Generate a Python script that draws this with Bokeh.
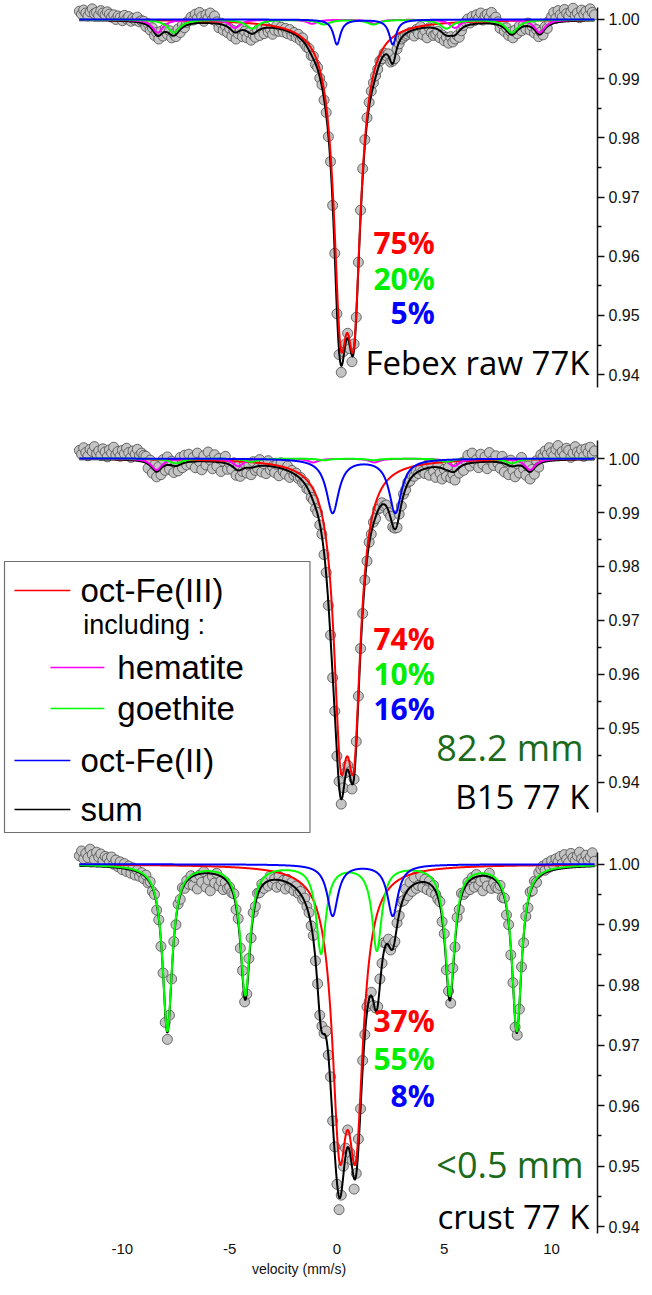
import numpy as np
from bokeh.plotting import figure
from bokeh.layouts import column
from bokeh.models import Range1d, LinearAxis, FixedTicker, PrintfTickFormatter, Label
from bokeh.embed import file_html
from bokeh.resources import INLINE

# ---------------- data ----------------
# measured spectra: absorption read off the picture, in units of 1e-4
# (relative transmission = 1 - value / 10000), channels -12.0 ... 12.0 mm/s, step 0.1
febex_abs = [
    -14, -9, -16, -11, -6, -13, -18, -10, -12, -7, -15, -11, -8, -13, -9,
    -4, -8, 0, -6, -3, 2, -7, -1, -5, 3, -2, 1, -4, 4, 2,
    3, 12, 7, 18, 14, 27, 22, 33, 20, 28, 15, 25, 19, 31, 24, 29, 16, 22, 9, 14, 5,
    2, -4, 1, -9, -2, -12, -5, 3, -8, -3, -11, 0, -6, 4,
    14, 6, 18, 11, 22, 15, 28, 19, 33, 24, 17, 29, 20, 31, 22, 35, 26, 30, 18, 27, 16, 24, 13, 21, 17, 25,
    18, 10, 20, 13, 21, 15, 24, 17, 27, 22, 30, 25, 35, 31, 42,
    47, 49, 61, 62, 76, 81, 99, 110, 136, 157, 198, 240, 314, 395, 497, 566, 596, 561, 548, 530,
    556, 578, 548, 503, 410, 322, 252, 203, 166, 140, 121, 107, 95, 84, 70, 66, 57, 61, 58, 72,
    70, 66, 50, 41, 33, 30, 27, 25, 22, 24,
    28, 17, 24, 12, 26, 19, 31, 14, 22, 27,
    25, 20, 31, 26, 36, 30, 40, 29, 38, 33, 27, 30, 19,
    10, 4, -1, 6, -5, 2, -8, -2, -11, 1, -6, -9, -3, -12, 0, -4,
    4, 15, 8, 20, 14, 27, 21, 31, 18, 24, 11, 19, 8, 16, 6, 18, 12, 23, 17, 29, 21, 26, 12, 15,
    2, -5, -12, -2, -15, -8, -4, -17, -10, -6, -13, -19, -7, -11, -3, -16, -9, -14, -6, -18, -12, -8,
]
b15_abs = [
    -15, -8, -20, -11, -5, -17, -13, -22, -9, -14, -6, -18, -12, -3, -16, -10, -21, -7, -13, -4,
    -15, -9, -19, -11, -2, -14, -8, -17, -5, -10, -6,
    -4, 18, 3, 27, 12, 34, 15, 30, 2, 22, -3, 20, 5, 26, 9, 23, -2, 17, -6, 12,
    -8, 10, -2, 17, -10, 6, 21, -5, 12, -12, 3, 19, -7, 14, 0, 24, 5, -4, 20, 9,
    20, 8, 31, 14, 33, 24, 9, 27, 12, 30, 6, 22, 18, 2, 25, 10, 28, 4, 21, 15, 26, 11, 32, 8, 24, 29, 14, 35, 22,
    31, 27, 37, 35, 45, 44, 56, 58, 72, 77, 93, 100, 123, 140, 178, 211, 272, 327, 406, 468,
    551, 598, 640, 610, 582, 568, 580, 612, 594, 524, 440, 352, 287, 225, 190, 155, 140, 118, 111, 94,
    92, 82, 88, 86, 100, 107, 127, 129, 128, 103, 88, 66, 58, 44, 42, 31, 33, 24, 28, 19, 24,
    28, 12, 31, 9, 24, 35, 14, 27, 38, 20, 33, 16, 36, 29, 40, 18, 27, 8, 22, 4,
    -6, 14, -10, 8, 2, 17, -8, 11, -3, 19, -11, 5, 13, -5, 9,
    18, -4, 25, 6, 30, 3, 22, 34, 10, 27, -2, 19, 31, 14, 38, 20, 29, 4, 16, -7,
    -3, -14, -8, -20, -11, -5, -17, -24, -9, -13, -6, -19, -15, -2, -10, -22, -12, -7, -16, -4,
    -18, -11, -21, -8, -14,
]
crust_abs = [
    -14, -22, -9, -18, -11, -25, -16, -8, -20, -12, -17, -6, -13,
    -10, -3, -12, 0, -7, 4, -4, 9, -1, 12, 3, 15, 6, 18, 10, 20, 14,
    24, 18, 31, 29, 45, 50, 76, 92, 136, 180, 262, 290, 250, 190, 128, 100, 66, 58, 39, 40, 27, 33, 19,
    35, 22, 41, 18, 30, 12, 38, 26, 44, 20, 31, 15, 36, 28, 42, 30, 40,
    38, 47, 49, 75, 90, 139, 176, 228, 215, 156, 122, 80, 70, 48, 47, 33,
    40, 28, 36, 19, 33, 24, 38, 20, 35, 27, 41, 25, 38, 30, 44, 36, 48, 45, 58, 56,
    70, 80, 102, 118, 160, 198, 250, 268, 280, 276, 316, 352, 425, 468, 530, 572, 548, 500, 470, 440,
    478, 490, 538, 512, 455, 405, 325, 282, 236, 228, 212, 234, 238, 236, 190, 164, 130, 131, 124, 142,
    133, 128, 97, 85, 62,
    60, 41, 52, 30, 45, 22, 40, 35, 19, 38, 25, 42, 28, 46, 35, 50,
    58, 62, 95, 115, 175, 210, 230, 172, 137, 88, 75, 48, 50,
    46, 30, 42, 22, 38, 17, 35, 28, 44, 24, 36, 15, 40, 31, 38,
    40, 35, 55, 56, 84, 100, 150, 196, 270, 283, 240, 170, 130, 86, 72, 46, 44, 28, 30,
    14, 8, 3, 10, -2, 5, -6, 2, -9, -4, -13, -1, -16, -8, -3, -18, -11, -6, -14, -20, -9, -4, -15, -7, -12, -19, -5,
]
for _a in (febex_abs, b15_abs, crust_abs):
    assert len(_a) == 241, len(_a)

# fitted sub-spectra: line positions (mm/s), line depths, half width at half maximum (mm/s)
febex_fe3 = ([0.17, 0.79], [0.0432, 0.0432], 0.39)
febex_fe2 = ([0.0, 2.6], [0.0042, 0.0042], 0.20)
febex_goe = ([-7.6, -3.95, -0.6, 1.7, 5.1, 8.15], [0.0022, 0.0015, 0.0008, 0.0008, 0.0015, 0.0022], 0.35)
febex_hem = ([-8.35, -4.75, -1.15, 1.75, 5.5, 9.45], [0.0022, 0.0014, 0.0007, 0.0007, 0.0014, 0.0022], 0.30)

b15_fe3 = ([0.17, 0.79], [0.045, 0.045], 0.39)
b15_fe2 = ([-0.2, 2.72], [0.010, 0.010], 0.35)
b15_goe = ([-7.5, -4.0, -0.6, 1.7, 5.1, 8.15], [0.0009, 0.0006, 0.0003, 0.0003, 0.0006, 0.0009], 0.35)
b15_hem = ([-8.4, -4.6, -1.1, 1.75, 5.45, 9.0], [0.0021, 0.0014, 0.0007, 0.0007, 0.0014, 0.0021], 0.30)

crust_fe3 = ([0.12, 0.88], [0.0400, 0.0400], 0.42)
crust_fe2 = ([-0.2, 2.6], [0.0085, 0.0085], 0.30)
crust_goe = ([-7.9, -4.27, -0.74, 1.86, 5.26, 8.38], [0.0275, 0.0215, 0.0145, 0.0140, 0.0215, 0.0275], 0.27)
crust_hem = ([], [], 0.30)

febex_pct = ["75%", "20%", "5%"]
b15_pct = ["74%", "10%", "16%"]
crust_pct = ["37%", "55%", "8%"]
sample_names = ["Febex raw 77K", "B15 77 K", "crust 77 K"]
distances = ["82.2 mm", "<0.5 mm"]
legend_labels = ["oct-Fe(III)", "including :", "hematite", "goethite", "oct-Fe(II)", "sum"]
y_ticks = [0.94, 0.95, 0.96, 0.97, 0.98, 0.99, 1.00]
y_minor = [0.945, 0.955, 0.965, 0.975, 0.985, 0.995]
x_ticks = [-10, -5, 0, 5, 10]

# ---------------- style ----------------
RED, GREEN, BLUE, MAG = "#ff0000", "#00ff00", "#0000ff", "#ff00ff"
GREEN_TXT = "#00ee00"
DKGREEN = "#1b6b1b"
AX_FONT = "Liberation Sans"
LBL_FONT = "Open Sans"
W = 642
X0, X1 = -15.6744, 12.1395

velocity = np.round(np.linspace(-12.0, 12.0, 241), 2)
vfine = np.linspace(-12.0, 12.0, 2401)


def lor(v, comp):
    pos, dep, hw = comp
    out = np.zeros_like(v)
    for p, d in zip(pos, dep):
        out += d / (1.0 + ((v - p) / hw) ** 2)
    return out


def panel(height, ybot, ytop, bounds, absorb, fe3, fe2, goe, hem, mbb=0):
    p = figure(width=W, height=height, x_range=Range1d(X0, X1), y_range=Range1d(ybot, ytop),
               output_backend="svg", toolbar_location=None,
               x_axis_location=None, y_axis_location=None,
               min_border_left=0, min_border_right=44, min_border_top=0, min_border_bottom=mbb,
               outline_line_color=None, background_fill_color="white", border_fill_color="white")
    p.grid.grid_line_color = None
    ax = LinearAxis(ticker=FixedTicker(ticks=y_ticks, minor_ticks=y_minor),
                    formatter=PrintfTickFormatter(format="%.2f"), bounds=bounds,
                    axis_line_width=1.5, axis_line_color="#111111",
                    major_tick_out=7, major_tick_in=0, minor_tick_out=4, minor_tick_in=0,
                    major_tick_line_width=1.5, minor_tick_line_width=1.5,
                    major_tick_line_color="#111111", minor_tick_line_color="#111111",
                    major_label_text_font=AX_FONT, major_label_text_font_size="16px",
                    major_label_text_color="#111111", major_label_standoff=4)
    p.add_layout(ax, "right")

    trans = 1.0 - np.array(absorb, dtype=float) / 1e4
    p.scatter(velocity, trans, size=10, marker="circle", fill_color="#c4c4c4",
              line_color="#4a4a4a", line_width=0.8)

    a3, a2, ag, ah = lor(vfine, fe3), lor(vfine, fe2), lor(vfine, goe), lor(vfine, hem)
    p.line(vfine, 1 - (a3 + a2 + ag + ah), line_color="black", line_width=2)
    p.line(vfine, 1 - a3, line_color=RED, line_width=2)
    if len(hem[0]):
        p.line(vfine, 1 - ah, line_color=MAG, line_width=2)
    p.line(vfine, 1 - ag, line_color=GREEN, line_width=2)
    p.line(vfine, 1 - a2, line_color=BLUE, line_width=2)
    return p


def pct_labels(p, texts, ys):
    for t, y, c in zip(texts, ys, [RED, GREEN_TXT, BLUE]):
        p.add_layout(Label(x=4.558, y=y, text=t, text_align="right", text_baseline="middle",
                           text_font=LBL_FONT, text_font_style="bold", text_font_size="30px",
                           text_color=c))


def big_label(p, text, x, y, color="black", size="33px"):
    p.add_layout(Label(x=x, y=y, text=text, text_align="right", text_baseline="middle",
                       text_font=LBL_FONT, text_font_size=size, text_color=color))


# panel 1 : Febex raw
p1 = panel(432, 0.930236, 1.003209, (0.9378, 1.002), febex_abs, febex_fe3, febex_fe2, febex_goe, febex_hem)
pct_labels(p1, febex_pct, [0.96233, 0.95625, 0.95051])
big_label(p1, sample_names[0], 11.767, 0.94206)

# panel 2 : B15
p2 = panel(407, 0.929444, 1.004815, (0.9344, 1.0033), b15_abs, b15_fe3, b15_fe2, b15_goe, b15_hem)
pct_labels(p2, b15_pct, [0.96667, 0.96019, 0.95370])
big_label(p2, distances[0], 11.488, 0.94648, DKGREEN, "36px")
big_label(p2, sample_names[1], 11.767, 0.93741)

# legend box (drawn inside panel 2)
p2.quad(left=-15.488, right=-1.256, bottom=0.930741, top=0.980926,
        fill_color="white", line_color="#707070", line_width=1.2)
leg_rows = [
    (legend_labels[0], RED, 0.975556, -15.023, -12.419, -11.953, "33px"),
    (legend_labels[1], None, 0.969259, None, None, -11.814, "27px"),
    (legend_labels[2], MAG, 0.961296, -13.349, -10.837, -10.233, "33px"),
    (legend_labels[3], GREEN, 0.953704, -13.349, -10.837, -10.233, "33px"),
    (legend_labels[4], BLUE, 0.944074, -15.023, -12.419, -11.953, "33px"),
    (legend_labels[5], "black", 0.935000, -15.023, -12.419, -11.953, "33px"),
]
for text, col, y, xa, xb, xt, fs in leg_rows:
    if col is not None:
        p2.segment(x0=xa, y0=y, x1=xb, y1=y, line_color=col, line_width=1.5)
    p2.add_layout(Label(x=xt, y=y, text=text, text_align="left", text_baseline="middle",
                        text_font=AX_FONT, text_font_size=fs, text_color="black"))

# panel 3 : crust
p3 = panel(440, 0.938852, 1.004098, (0.9389, 1.002), crust_abs, crust_fe3, crust_fe2, crust_goe, crust_hem, mbb=42)
pct_labels(p3, crust_pct, [0.97410, 0.96787, 0.96164])
big_label(p3, distances[1], 11.488, 0.95033, DKGREEN, "36px")
big_label(p3, sample_names[2], 11.767, 0.94164)

xax = LinearAxis(ticker=FixedTicker(ticks=x_ticks), formatter=PrintfTickFormatter(format="%d"),
                 axis_line_color=None, major_tick_line_color=None, minor_tick_line_color=None,
                 major_label_text_font=AX_FONT, major_label_text_font_size="15px",
                 major_label_text_color="#111111", major_label_standoff=4,
                 axis_label="velocity (mm/s)", axis_label_text_font=AX_FONT,
                 axis_label_text_font_size="14px", axis_label_text_font_style="normal",
                 axis_label_standoff=4, axis_label_text_color="#111111")
p3.add_layout(xax, "below")

layout = column(p1, p2, p3)
with open("out.html", "w") as f:
    f.write(file_html(layout, INLINE, title="Mossbauer spectra"))
